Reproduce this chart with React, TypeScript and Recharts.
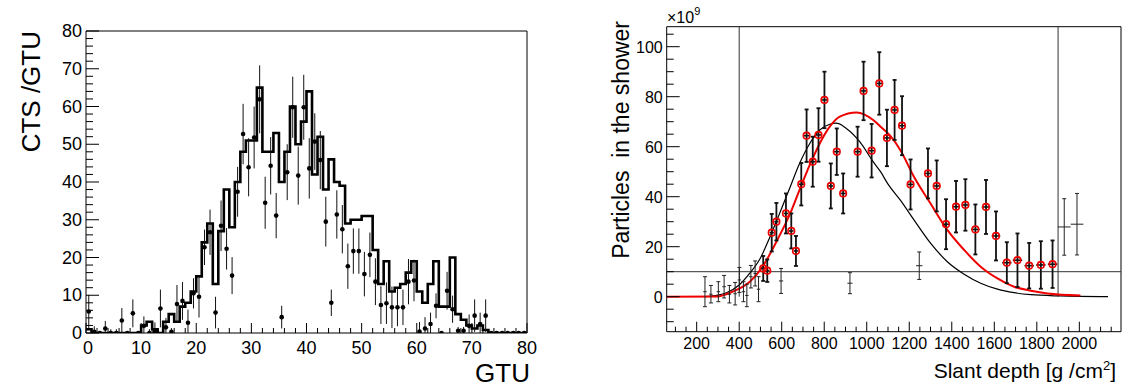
import React from 'react';
import {
  ComposedChart,
  Line,
  Scatter,
  XAxis,
  YAxis,
  ErrorBar,
  ReferenceLine,
  ReferenceArea,
} from 'recharts';

const FONT = '"Liberation Sans", Arial, Helvetica, sans-serif';

// ---------------- Left panel: counts per GTU ----------------
const gtuBins = Array.from({ length: 80 }, (_, i) => i);
const gtuHist = [
  1, 0, 0, 0, 0, 0, 0, 0, 0, 0,
  2, 3, 1, 0, 3, 5, 3, 7, 8, 11,
  15, 24, 29, 13, 27, 38, 28, 40, 48, 51,
  51, 65, 48, 48, 53, 40, 48, 60, 50, 56,
  64, 42, 52, 38, 46, 40, 39, 29, 30, 30,
  31, 31, 22, 13, 19, 11, 12, 13, 16, 19,
  11, 8, 13, 19, 7, 7, 20, 5, 3.5, 2,
  1.2, 2, 0.8, 0, 0, 0, 0, 0, 0, 0,
];
const gtuVal = [
  5.7, 0.3, 0, 1.2, 0, 0, 3.3, 0, 5.2, 0,
  1.9, 0, 0.3, 6.5, 1.5, 0.3, 7.7, 8.5, 2.7, 10.5,
  9.6, 22.7, 26.7, 5.4, 28.4, 22.3, 15.2, 37.4, 52.7, 43.9,
  51.8, 61.9, 34.5, 44.3, 31.1, 4.2, 42.6, 59.8, 41.7, 59.8,
  43.6, 50.7, 45.8, 29.5, 8, 31.4, 27.5, 17.7, 21.7, 21.7,
  15.6, 20.7, 13.6, 7.4, 7.9, 6.8, 6.8, 6.8, 13.6, 13.9,
  0.4, 1.2, 2.4, 7.2, 0, 11.2, 6.3, 0.6, 0.6, 1.9,
  4.6, 2.4, 4.6, 0, 0, 0, 0, 0, 0, 0,
];
const gtuErr = [
  4.4, 1.5, 0.5, 2, 1, 1, 3.3, 0.5, 3.7, 0.5,
  2.5, 1, 2.5, 5, 2.5, 1, 5, 5, 3.5, 4,
  5.5, 4.7, 6, 4.2, 6.7, 5.5, 4.9, 6.6, 8, 7.7,
  8.2, 9, 6.9, 7.6, 6, 3, 7.4, 8.1, 7.7, 8.6,
  8, 7.5, 7.7, 6.6, 3.5, 6.4, 6.4, 6, 6, 6,
  5.9, 5.9, 6.2, 5, 5.5, 5.5, 5, 4.7, 6, 5.5,
  2.5, 3, 3, 3.3, 0, 5, 3.6, 1, 1, 3,
  4.3, 3, 4.3, 0, 0, 0, 0, 0, 0, 0,
];
const gtuXTicks = Array.from({ length: 41 }, (_, i) => i * 2);
const gtuYTicks = Array.from({ length: 41 }, (_, i) => i * 2);

// ---------------- Right panel: shower profile ----------------
const selDepth = [513, 532, 553, 575, 620, 645, 667, 692, 717, 746, 773, 801, 831, 859, 889, 957, 985, 1023, 1059, 1095, 1131, 1166, 1206, 1288, 1329, 1373, 1420, 1464, 1511, 1561, 1608, 1659, 1709, 1764, 1819, 1874];
const selPart = [11.3, 10.4, 25.6, 30, 33.3, 26.3, 18.3, 45, 64.4, 54, 64.7, 78.7, 44.3, 58, 41.3, 58, 82.3, 58.4, 85.3, 63.5, 74.7, 68.4, 44.9, 49.3, 44.3, 29, 36, 36.7, 26.9, 35.9, 24.3, 13.6, 14.6, 12.4, 12.7, 13];
const selDepthErr = [10, 10, 10, 10, 11, 11, 11, 12, 12, 12, 12, 12, 12, 13, 13, 14, 14, 14, 14, 15, 15, 15, 16, 17, 17, 18, 18, 18, 20, 20, 20, 22, 22, 22, 22, 22];
const selPartErr = [5, 4.5, 7.5, 7.5, 8, 7, 6, 8.5, 10.5, 10, 10.7, 11.3, 9, 9.3, 8, 10, 11.7, 10.7, 12.5, 11.3, 12, 11.8, 10, 10, 10.2, 10, 10.3, 10.3, 10, 10.8, 9.8, 8.2, 10.7, 9.1, 9.5, 9.5];

const restDepth = [239, 267, 302, 329, 354, 381, 401, 420, 436, 455, 475, 491, 597, 921, 1247, 1929, 1989];
const restPart = [2, 1, 2, 4, 1, 1.2, 6.7, 2, 0.5, 8, 9.3, 3, 6.3, 5.4, 12.4, 27.9, 29];
const restDepthErr = [8, 8, 8, 8, 8, 8, 8, 8, 8, 8, 8, 8, 10, 12, 15, 30, 30];
const restPartErr = [6, 3.5, 4, 4.5, 3.5, 4.5, 5, 4, 4.5, 4.5, 5, 5, 5, 4.2, 5.5, 11.3, 12.3];

const fitBlackX = [240, 300, 340, 400, 450, 500, 545, 590, 637, 684, 732, 779, 826, 857, 904, 967, 1030, 1065, 1100, 1159, 1222, 1300, 1379, 1458, 1536, 1615, 1693, 1772, 1906, 2135];
const fitBlackY = [0, 0.6, 1.6, 4.7, 9.4, 15.5, 24, 33.3, 43.3, 53.3, 61.3, 66.7, 69, 69.4, 67.3, 62, 54, 50, 45, 38.5, 30.7, 21.4, 14, 9, 5.4, 3, 1.6, 0.8, 0.3, 0];
const fitRedX = [59, 300, 339, 402, 450, 510, 575, 637, 684, 732, 779, 826, 873, 952, 1030, 1065, 1109, 1159, 1222, 1300, 1379, 1458, 1536, 1615, 1693, 1772, 1850, 2005];
const fitRedY = [0, 0.1, 1, 3.3, 6, 12, 22, 32.7, 42.7, 52.7, 61.3, 68, 72, 73.7, 70.7, 68, 64.5, 58.5, 48, 37.3, 26.7, 18.7, 12, 7.3, 4, 2.4, 1.3, 0.5];

const depthTicks = Array.from({ length: 42 }, (_, i) => 100 + i * 50);
const partTicks = Array.from({ length: 24 }, (_, i) => -10 + i * 5);

// ---------------- tables built from the arrays ----------------
const histData = [
  ...gtuBins.map((b, i) => ({ x: b, y: gtuHist[i] })),
  { x: 80, y: gtuHist[79] },
];
const gtuPoints = gtuBins.map((b, i) => ({
  x: b + 0.5,
  y: gtuVal[i],
  e: [Math.min(gtuErr[i], gtuVal[i]), gtuErr[i]],
}));
const selData = selDepth.map((d, i) => ({ x: d, y: selPart[i], ex: selDepthErr[i], ey: selPartErr[i] }));
const restData = restDepth.map((d, i) => ({ x: d, y: restPart[i], ex: restDepthErr[i], ey: restPartErr[i] }));
const blackFit = fitBlackX.map((d, i) => ({ x: d, y: fitBlackY[i] }));
const redFit = fitRedX.map((d, i) => ({ x: d, y: fitRedY[i] }));

// ---------------- tick renderers (ROOT-style inward ticks) ----------------
const LeftXTick = (p: any) => {
  const v = p.payload.value;
  const major = v % 10 === 0;
  return (
    <g>
      <line x1={p.x} y1={p.y} x2={p.x} y2={p.y - (major ? 10 : 5)} stroke="#000" strokeWidth={1} />
      {major && (
        <text x={p.x + (v === 0 ? 2 : 0)} y={p.y + 21} textAnchor="middle" fontSize={18} fontFamily={FONT} fill="#000">
          {v}
        </text>
      )}
    </g>
  );
};
const LeftYTick = (p: any) => {
  const v = p.payload.value;
  const major = v % 10 === 0;
  return (
    <g>
      <line x1={p.x} y1={p.y} x2={p.x + (major ? 13 : 7)} y2={p.y} stroke="#000" strokeWidth={1} />
      {major && (
        <text x={p.x - 4} y={p.y + 6} textAnchor="end" fontSize={18} fontFamily={FONT} fill="#000">
          {v}
        </text>
      )}
    </g>
  );
};
const RightXTick = (p: any) => {
  const v = p.payload.value;
  const major = v % 200 === 0;
  const show = major && v >= 200 && v <= 2000;
  return (
    <g>
      <line x1={p.x} y1={p.y} x2={p.x} y2={p.y - (major ? 10 : 5)} stroke="#000" strokeWidth={1} />
      {show && (
        <text x={p.x} y={p.y + 17} textAnchor="middle" fontSize={16} fontFamily={FONT} fill="#000">
          {v}
        </text>
      )}
    </g>
  );
};
const RightYTick = (p: any) => {
  const v = p.payload.value;
  const major = v % 20 === 0 && v >= 0;
  return (
    <g>
      <line x1={p.x} y1={p.y} x2={p.x + (major ? 13 : 7)} y2={p.y} stroke="#000" strokeWidth={1} />
      {major && (
        <text x={p.x - 4} y={p.y + 6} textAnchor="end" fontSize={16} fontFamily={FONT} fill="#000">
          {v}
        </text>
      )}
    </g>
  );
};

const BlackDot = (p: any) => <circle cx={p.cx} cy={p.cy} r={2.3} fill="#000" />;
const RedRing = (p: any) => <circle cx={p.cx} cy={p.cy} r={3.3} fill="none" stroke="#ee0000" strokeWidth={1.6} />;
const NoMarker = () => <g />;

export default function App() {
  return (
    <div style={{ position: 'absolute', left: 0, top: 0, width: 1128, height: 387, background: '#fff', fontFamily: FONT }}>
      {/* Left panel */}
      <div style={{ position: 'absolute', left: 0, top: 0 }}>
        <ComposedChart width={560} height={387} margin={{ top: 31, right: 33, bottom: 53, left: 85 }}>
          <XAxis
            type="number"
            dataKey="x"
            domain={[0, 80]}
            ticks={gtuXTicks}
            interval={0}
            allowDataOverflow
            height={1}
            tickSize={0}
            tickMargin={0}
            tickLine={false}
            axisLine={false}
            tick={<LeftXTick />}
          />
          <YAxis
            type="number"
            dataKey="y"
            domain={[0, 80]}
            ticks={gtuYTicks}
            interval={0}
            allowDataOverflow
            width={1}
            tickSize={0}
            tickMargin={0}
            tickLine={false}
            axisLine={false}
            tick={<LeftYTick />}
          />
          <ReferenceArea x1={0} x2={80} y1={0} y2={80} fill="none" stroke="#000" strokeWidth={1} />
          <Line
            data={histData}
            dataKey="y"
            type="stepAfter"
            stroke="#000"
            strokeWidth={2.6}
            dot={false}
            isAnimationActive={false}
          />
          <Scatter data={gtuPoints} shape={<BlackDot />} isAnimationActive={false}>
            <ErrorBar dataKey="e" direction="y" width={0} stroke="#111" strokeWidth={1} />
          </Scatter>
        </ComposedChart>
      </div>

      {/* Right panel */}
      <div style={{ position: 'absolute', left: 560, top: 0 }}>
        <ComposedChart width={568} height={387} margin={{ top: 26.7, right: 7, bottom: 54.3, left: 105.7 }}>
          <XAxis
            type="number"
            dataKey="x"
            domain={[59, 2196]}
            ticks={depthTicks}
            interval={0}
            allowDataOverflow
            height={1}
            tickSize={0}
            tickMargin={0}
            tickLine={false}
            axisLine={false}
            tick={<RightXTick />}
          />
          <YAxis
            type="number"
            dataKey="y"
            domain={[-14, 108]}
            ticks={partTicks}
            interval={0}
            allowDataOverflow
            width={1}
            tickSize={0}
            tickMargin={0}
            tickLine={false}
            axisLine={false}
            tick={<RightYTick />}
          />
          <ReferenceArea x1={59} x2={2196} y1={-14} y2={108} fill="none" stroke="#000" strokeWidth={1} />
          <ReferenceLine segment={[{ x: 400, y: 0 }, { x: 400, y: 108 }]} stroke="#333" strokeWidth={1} />
          <ReferenceLine segment={[{ x: 1900, y: 0 }, { x: 1900, y: 108 }]} stroke="#333" strokeWidth={1} />
          <ReferenceLine y={10} stroke="#333" strokeWidth={1} />
          <Line
            data={blackFit}
            dataKey="y"
            type="monotone"
            stroke="#000"
            strokeWidth={1.2}
            dot={false}
            isAnimationActive={false}
          />
          <Line
            data={redFit}
            dataKey="y"
            type="monotone"
            stroke="#ee0000"
            strokeWidth={2}
            dot={false}
            isAnimationActive={false}
          />
          <Scatter data={restData} shape={<NoMarker />} isAnimationActive={false}>
            <ErrorBar dataKey="ex" direction="x" width={0} stroke="#222" strokeWidth={1} />
            <ErrorBar dataKey="ey" direction="y" width={2} stroke="#222" strokeWidth={1} />
          </Scatter>
          <Scatter data={selData} shape={<RedRing />} isAnimationActive={false}>
            <ErrorBar dataKey="ex" direction="x" width={0} stroke="#111" strokeWidth={1.6} />
            <ErrorBar dataKey="ey" direction="y" width={2} stroke="#111" strokeWidth={1.8} />
          </Scatter>
        </ComposedChart>
      </div>

      {/* Titles */}
      <svg width={1128} height={387} style={{ position: 'absolute', left: 0, top: 0, pointerEvents: 'none' }}>
        <text transform="translate(40,31) rotate(-90)" textAnchor="end" fontSize={26} fontFamily={FONT} fill="#000">
          CTS /GTU
        </text>
        <text x={530} y={382} textAnchor="end" fontSize={26} fontFamily={FONT} fill="#000">
          GTU
        </text>
        <text transform="translate(629,21) rotate(-90)" textAnchor="end" fontSize={23} fontFamily={FONT} fill="#000" style={{ whiteSpace: 'pre' }}>
          {'Particles  in the shower'}
        </text>
        <text x={1116} y={378} textAnchor="end" fontSize={21} fontFamily={FONT} fill="#000">
          Slant depth [g /cm
          <tspan dy={-8} fontSize={13}>2</tspan>
          <tspan dy={8}>]</tspan>
        </text>
        <text x={667} y={23} fontSize={16} fontFamily={FONT} fill="#000">
          ×10
          <tspan dy={-8} fontSize={11}>9</tspan>
        </text>
      </svg>
    </div>
  );
}
